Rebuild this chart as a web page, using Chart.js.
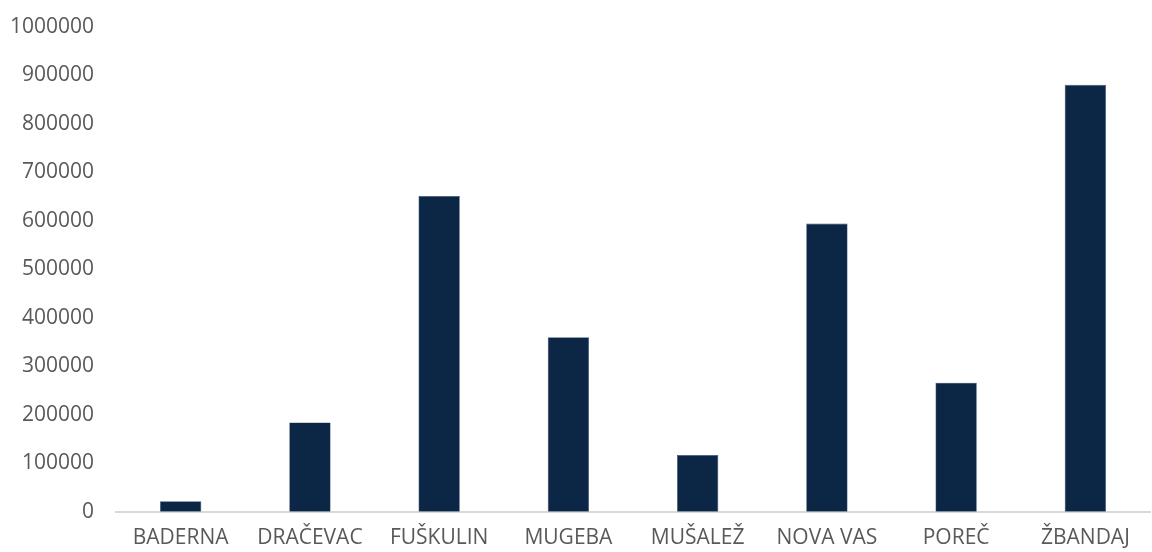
<!DOCTYPE html>
<html>
<head>
<meta charset="utf-8">
<script src="https://cdn.jsdelivr.net/npm/chart.js@4/dist/chart.umd.min.js"></script>
<style>
  html, body { margin: 0; padding: 0; background: #ffffff; }
  .wrapper { width: 1152px; height: 552px; overflow: hidden; position: relative; }
  #chart { position: absolute; left: 0; top: -8px; }
</style>
</head>
<body>
<div class="wrapper"><canvas id="chart" width="1152" height="560"></canvas></div>
<script>
const categories = ["BADERNA", "DRAČEVAC", "FUŠKULIN", "MUGEBA", "MUŠALEŽ", "NOVA VAS", "POREČ", "ŽBANDAJ"];
const values = [22000, 184000, 651000, 360000, 117000, 594000, 266000, 880000];
const yMin = 0;
const yMax = 1000000;
const yStep = 100000;

const $chart = document.querySelector("#chart");

let data = {
  labels: categories,
  datasets: [{
    data: values,
    backgroundColor: '#0c2646',
    borderColor: '#3a5474',
    borderWidth: 0.6,
    barPercentage: 0.32,
    categoryPercentage: 1
  }]
};

let config = {
  type: 'bar',
  data: data,
  options: {
    responsive: false,
    animation: false,
    layout: { padding: { left: -12, right: 2, top: -6, bottom: -13 } },
    plugins: {
      legend: { display: false },
      tooltip: { enabled: false }
    },
    scales: {
      x: {
        grid: { display: false, drawTicks: false },
        border: { display: true, color: '#d9d9d9', width: 2 },
        ticks: {
          color: '#595959',
          font: { family: 'Open Sans', size: 21, lineHeight: 1.2 },
          padding: 14,
          maxRotation: 0,
          autoSkip: false
        }
      },
      y: {
        min: yMin,
        max: yMax,
        grid: { display: false, drawTicks: false },
        border: { display: false },
        ticks: {
          stepSize: yStep,
          color: '#595959',
          font: { family: 'Open Sans', size: 21, lineHeight: 1.2 },
          padding: 22,
          callback: function (v) { return String(v); }
        }
      }
    }
  }
};

new Chart($chart, config);
</script>
</body>
</html>
